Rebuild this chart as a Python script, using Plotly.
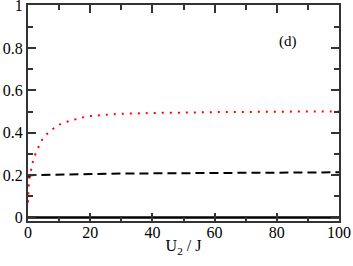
import plotly.graph_objects as go

red_x = [0, 0.2, 0.4, 0.8, 1.3, 1.8, 2.6, 3.7, 4.9, 6.6, 8.5, 10.5, 12.6, 15, 17.2, 19.7, 22, 24.6, 27, 30, 35, 40, 50, 60, 70, 80, 90, 100]
red_y = [0.07, 0.138, 0.178, 0.21, 0.245, 0.276, 0.307, 0.342, 0.375, 0.40, 0.423, 0.44, 0.452, 0.462, 0.471, 0.478, 0.481, 0.484, 0.487, 0.489, 0.491, 0.493, 0.495, 0.497, 0.498, 0.499, 0.5, 0.5]

black_x = [0, 0.5, 1, 2, 5, 10, 20, 30, 40, 60, 80, 100]
black_y = [0.19, 0.196, 0.199, 0.200, 0.201, 0.203, 0.205, 0.207, 0.208, 0.210, 0.212, 0.213]

zero_x = [0, 100]
zero_y = [0, 0]

fig = go.Figure()
fig.add_trace(go.Scatter(x=zero_x, y=zero_y, mode="lines",
                         line=dict(color="black", width=2.5)))
fig.add_trace(go.Scatter(x=black_x, y=black_y, mode="lines",
                         line=dict(color="black", width=2, dash="9px,5px")))
fig.add_trace(go.Scatter(x=red_x, y=red_y, mode="lines", line_shape="spline",
                         line=dict(color="red", width=2, dash="2px,6px")))

FAM = "Liberation Serif"
font = dict(family=FAM, size=16, color="black")
axis_common = dict(showgrid=False, zeroline=False, showline=True, linecolor="#333",
                   linewidth=2, mirror="allticks", ticks="inside", tickcolor="#333",
                   tickwidth=1.5, ticklen=8, tickfont=font, automargin=False)

fig.update_layout(
    width=353, height=266,
    margin=dict(l=28, r=14, t=5, b=45),
    paper_bgcolor="white", plot_bgcolor="white",
    showlegend=False,
    font=font,
    xaxis=dict(range=[0, 100], tickvals=[0, 20, 40, 60, 80, 100],
               ticklabelstandoff=-4,
               minor=dict(tickvals=[10, 30, 50, 70, 90], ticks="inside", ticklen=5,
                          tickcolor="#333", tickwidth=1.5),
               title=dict(text="U<sub>2</sub> / J", font=font, standoff=0),
               **axis_common),
    yaxis=dict(range=[-0.017, 1.003], tickvals=[0, 0.2, 0.4, 0.6, 0.8, 1],
               ticktext=["0", "0.2", "0.4", "0.6", "0.8", "1"],
               ticklabeloverflow="allow",
               minor=dict(tickvals=[0.1, 0.3, 0.5, 0.7, 0.9], ticks="inside", ticklen=5,
                          tickcolor="#333", tickwidth=1.5),
               **axis_common),
    annotations=[dict(x=83.5, y=0.83, xref="x", yref="y", text="(d)",
                      showarrow=False, font=dict(family=FAM, size=15, color="black"))],
)

fig.write_html("out.html", config={"displayModeBar": False},
               post_script="document.body.style.margin='0';document.body.style.padding='0';")
